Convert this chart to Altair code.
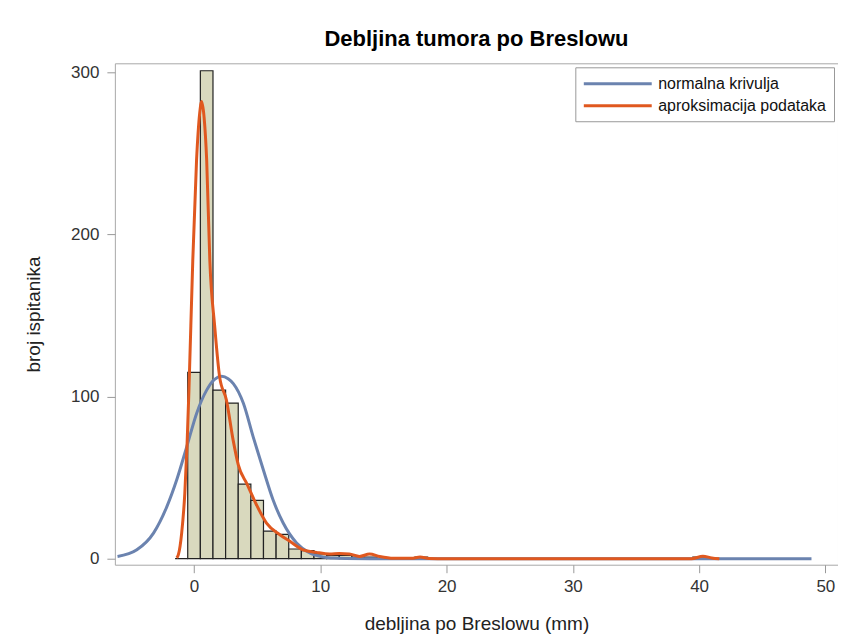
import altair as alt
import pandas as pd

# Histogram bins (centre, count), bin width 1
bin_centers = list(range(-1, 42))
bin_counts = [0, 115, 301, 104, 96, 46, 36, 17, 15, 6, 5, 3, 2, 2, 1, 1, 0, 0, 0, 1,
              0, 0, 0, 0, 0, 0, 0, 0, 0, 0, 0, 0, 0, 0, 0, 0, 0, 0, 0, 0, 0, 1, 0]

# Normal curve
normal_x = [-6.06, -4.53, -3.21, -2.16, -1.37, -0.58, 0.21, 1.0, 1.6, 2.19, 2.7, 3.11, 3.9,
            4.69, 5.48, 6.27, 7.06, 8.12, 9.17, 10.2, 11.0, 12.0, 14.0, 48.9]
normal_y = [1.4, 5.5, 15.8, 32, 48.7, 69, 89.8, 104, 110.5, 112.5, 111, 108, 96,
            75, 55, 36, 22, 9.7, 3.5, 1.0, 0.4, 0.1, 0, 0]

# Kernel-density approximation
kernel_x = [-1.37, -1.24, -0.98, -0.73, -0.55, -0.4, -0.1, 0.2, 0.45, 0.6, 0.8, 1.0, 1.25,
            1.64, 2.03, 2.56, 3.1, 3.5, 4.2, 4.96, 5.74, 6.8, 7.59, 8.64, 9.7, 10.75, 11.5,
            12.3, 13.1, 13.9, 14.7, 15.8, 17.2, 17.9, 18.6, 20.0, 39.4, 40.3, 41.0, 41.6]
kernel_y = [0.5, 2.5, 15.8, 40.5, 71, 105, 184, 246, 275, 282, 272, 246, 184,
            143, 112, 98, 73, 58, 46, 33, 22, 14.8, 10.7, 5.5, 3.9, 2.9, 3.2,
            2.9, 1.4, 2.9, 1.4, 0.3, 0.3, 1.0, 0.2, 0, 0, 1.5, 0.5, 0]

series_names = ["normalna krivulja", "aproksimacija podataka"]
series_colors = ["#6B83AF", "#E0581F"]

bars = pd.DataFrame({
    "start": [c - 0.5 for c in bin_centers],
    "end": [c + 0.5 for c in bin_centers],
    "count": bin_counts,
})
lines = pd.concat([
    pd.DataFrame({"x": normal_x, "y": normal_y, "series": series_names[0], "order": range(len(normal_x))}),
    pd.DataFrame({"x": kernel_x, "y": kernel_y, "series": series_names[1], "order": range(len(kernel_x))}),
])

FONT = "Liberation Sans"
xscale = alt.Scale(domain=[-6.27, 51.0], nice=False, zero=False)
yscale = alt.Scale(domain=[-3.7, 305.6], nice=False, zero=False)

xaxis = alt.Axis(values=[0, 10, 20, 30, 40, 50], title="debljina po Breslowu (mm)",
                 tickSize=8, labelPadding=6, titlePadding=20, domain=False, grid=False)
yaxis = alt.Axis(values=[0, 100, 200, 300], title="broj ispitanika",
                 tickSize=8, labelPadding=8, titlePadding=27, domain=False, grid=False)

hist = alt.Chart(bars).mark_bar(fill="#D9D9BE", stroke="#222222", strokeWidth=1.2).encode(
    x=alt.X("start:Q", scale=xscale, axis=xaxis),
    x2="end:Q",
    y=alt.Y("count:Q", scale=yscale, axis=yaxis),
    y2=alt.datum(0),
)

curves = alt.Chart(lines).mark_line(strokeWidth=3, interpolate="monotone", clip=True).encode(
    x=alt.X("x:Q", scale=xscale),
    y=alt.Y("y:Q", scale=yscale),
    color=alt.Color("series:N", scale=alt.Scale(domain=series_names, range=series_colors),
                    sort=series_names,
                    legend=alt.Legend(title=None, orient="none", legendX=461, legendY=4,
                                      symbolType="M-1,0H7.5", symbolSize=256, symbolStrokeWidth=3,
                                      labelOffset=57, labelFontSize=16, labelColor="#111",
                                      labelLimit=400,
                                      strokeColor="#999", fillColor="white", padding=7,
                                      rowPadding=4, labelFont=FONT)),
    order="order:Q",
)

chart = alt.layer(hist, curves).properties(
    width=724, height=502,
    title=alt.TitleParams("Debljina tumora po Breslowu", fontSize=22, font=FONT,
                          fontWeight="bold", color="#000", offset=12, anchor="middle"),
    autosize=alt.AutoSizeParams(type="none"),
    padding={"left": 107, "top": 55, "right": 0, "bottom": 70},
).configure_view(
    stroke="#A8A8A8", strokeWidth=1
).configure_axis(
    labelFont=FONT, titleFont=FONT,
    labelFontSize=17, titleFontSize=19, labelColor="#333", titleColor="#222",
    titleFontWeight="normal", tickColor="#999",
)

chart.save("out.html", embed_options={"renderer": "svg", "actions": False})
